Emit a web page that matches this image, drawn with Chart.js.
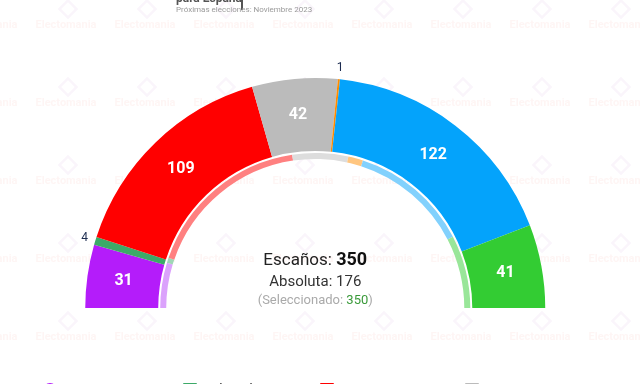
<!DOCTYPE html>
<html>
<head>
    <title>Escaños - Próximas elecciones</title>
    <script src="https://cdn.jsdelivr.net/npm/chart.js"></script>
    <style>
        body {
            margin: 0;
            background-color: #ffffff;
            font-family: Roboto, Arial, sans-serif;
        }
        #wrap {
            position: relative;
            width: 640px;
            height: 384px;
            overflow: hidden;
        }
        #chart-container {
            position: absolute;
            left: 0;
            top: 0;
            width: 640px;
            height: 384px;
        }
        #legend {
            position: absolute;
            left: 0;
            top: 381px;
            width: 640px;
            font-size: 13px;
            color: #333;
        }
        .item {
            position: absolute;
            top: 0;
            height: 20px;
        }
        .box {
            position: absolute;
            top: 2px;
            left: 0;
            width: 14px;
            height: 14px;
        }
        .name { position: absolute; left: 22px; top: 0; white-space: nowrap; }
        .num { position: absolute; top: 0; text-align: right; width: 40px; }
    </style>
</head>
<body>

<div id="wrap">
    <div id="chart-container">
        <canvas id="hemiciclo"></canvas>
    </div>
    <div id="legend"></div>
</div>

<script>
// Datos del hemiciclo (escaños) y anillo interior (% voto)
const partidos = ['UP', 'Más País', 'PSOE', 'Otros', 'Cs', 'PP', 'Vox'];
const escanos = [31, 4, 109, 42, 1, 122, 41];
const votos = [9.4, 1.1, 34.7, 11.6, 3.1, 24.8, 15.2];
const colores = ['#b41cfa', '#3caa68', '#ff0000', '#bbbbbb', '#ff8c00', '#04a3fb', '#33cc33'];
const coloresClaros = ['#dba2fc', '#9fd6b6', '#ff8080', '#dddddd', '#ffc680', '#82d1fd', '#99e699'];
const totalEscanos = 350;
const mayoria = 176;
const seleccionado = 350;

// legend rows (only the top of it is visible in the picture)
const legendX = [43, 183, 320, 465];
const legendNumX = [117, 262, 395, 543];

const legend = document.getElementById('legend');
for (let i = 0; i < 4; i++) {
    const it = document.createElement('div');
    it.className = 'item';
    it.style.left = legendX[i] + 'px';
    it.innerHTML = '<div class="box" style="background:' + colores[i] + ';border-radius:' + (i === 0 ? '7px' : '1px') + '"></div>' +
        '<span class="name">' + partidos[i] + '</span>' +
        '<span class="num" style="left:' + (legendNumX[i] - legendX[i]) + 'px">' + escanos[i] + '</span>';
    legend.appendChild(it);
}

// faint watermarks behind the chart
const marcaAgua = {
    id: 'marcaAgua',
    beforeDraw(chart) {
        const ctx = chart.ctx;
        ctx.save();
        ctx.font = 'bold 11px Roboto';
        ctx.textAlign = 'center';
        ctx.textBaseline = 'middle';
        for (let row = 0; row < 5; row++) {
            const y = 25 + row * 78;
            for (let col = -1; col < 8; col++) {
                const x = 66 + col * 79;
                ctx.fillStyle = 'rgba(245, 120, 100, 0.07)';
                ctx.fillText('Electomania', x, y);
                ctx.strokeStyle = 'rgba(190, 130, 200, 0.08)';
                ctx.lineWidth = 2.5;
                ctx.save();
                ctx.translate(x + 2, y - 16);
                ctx.rotate(Math.PI / 4);
                ctx.strokeRect(-6, -6, 12, 12);
                ctx.restore();
            }
        }
        // header
        ctx.textAlign = 'left';
        ctx.textBaseline = 'alphabetic';
        ctx.fillStyle = '#555';
        ctx.font = 'bold 12px Roboto';
        ctx.fillText('para España', 176, 2);
        ctx.fillRect(241, 0, 2, 10);
        ctx.fillStyle = '#9a9a9a';
        ctx.font = '8px Roboto';
        ctx.fillText('Próximas elecciones: Noviembre 2023', 176, 11.5);
        ctx.restore();
    }
};

// seat numbers on the outer ring, center texts
const etiquetas = {
    id: 'etiquetas',
    afterDatasetsDraw(chart) {
        const ctx = chart.ctx;
        const meta = chart.getDatasetMeta(0);
        ctx.save();
        ctx.textAlign = 'center';
        ctx.textBaseline = 'middle';
        meta.data.forEach(function (arc, i) {
            const v = escanos[i];
            if (v >= 10) {
                const p = arc.tooltipPosition();
                ctx.font = 'bold 16px Roboto';
                ctx.fillStyle = '#ffffff';
                ctx.fillText(String(v), p.x, p.y);
            } else {
                const a = (arc.startAngle + arc.endAngle) / 2;
                const r = arc.outerRadius + 11;
                ctx.font = '12px Roboto';
                ctx.fillStyle = '#1c2b4f';
                ctx.fillText(String(v), arc.x + Math.cos(a) * r, arc.y + Math.sin(a) * r);
            }
        });

        const cx = meta.data[0].x;
        function linea(parts, y) {
            let w = 0;
            parts.forEach(function (p) { ctx.font = p[1]; w += ctx.measureText(p[0]).width; });
            let x = cx - w / 2;
            ctx.textAlign = 'left';
            ctx.textBaseline = 'alphabetic';
            parts.forEach(function (p) {
                ctx.font = p[1];
                ctx.fillStyle = p[2];
                ctx.fillText(p[0], x, y);
                x += ctx.measureText(p[0]).width;
            });
        }
        linea([['Escaños: ', '17px Roboto', '#222'], [String(totalEscanos), 'bold 18px Roboto', '#111']], 265);
        linea([['Absoluta: ' + mayoria, '15px Roboto', '#333']], 285.5);
        linea([['(Seleccionado: ', '13px Roboto', '#aaaaaa'], [String(seleccionado), '13px Roboto', '#3a9a3a'], [')', '13px Roboto', '#aaaaaa']], 303.5);
        ctx.restore();
    }
};

const ctx = document.getElementById('hemiciclo').getContext('2d');
new Chart(ctx, {
    type: 'doughnut',
    data: {
        labels: partidos,
        datasets: [{
            data: escanos,
            backgroundColor: colores,
            borderWidth: 0,
            weight: 73
        }, {
            data: [1],
            backgroundColor: 'rgba(0,0,0,0)',
            borderWidth: 0,
            weight: 2
        }, {
            data: votos,
            backgroundColor: coloresClaros,
            borderWidth: 0,
            weight: 6
        }]
    },
    options: {
        responsive: true,
        maintainAspectRatio: false,
        animation: false,
        events: [],
        rotation: -90,
        circumference: 180,
        cutout: '64.8%',
        layout: {
            padding: { left: 85, right: 94.5, top: 78, bottom: 76 }
        },
        plugins: {
            legend: { display: false },
            tooltip: { enabled: false }
        }
    },
    plugins: [marcaAgua, etiquetas]
});
</script>

</body>
</html>
